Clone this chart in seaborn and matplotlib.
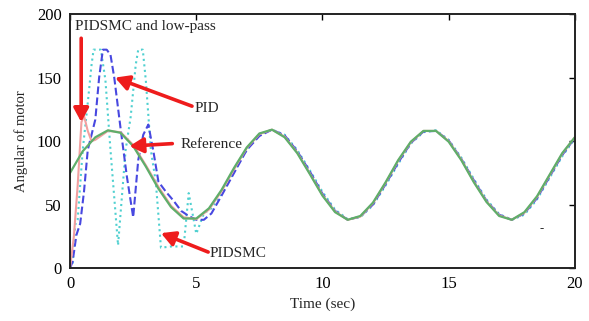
import numpy as np
import pandas as pd
import matplotlib
matplotlib.use("Agg")
import matplotlib.pyplot as plt
import seaborn as sns

# time grid for the steady part and values
t_ref = list(np.arange(0, 20.5, 0.5))
reference = [75, 92, 103, 108.5, 106.5, 96, 80, 62.5, 48, 39,
             39, 47, 61.5, 79, 95, 106, 109, 103, 90.5, 74,
             57, 44, 38, 41, 51.5, 67.5, 85, 99.5, 108, 108,
             99.5, 85, 67.5, 52, 41, 38, 44, 56.5, 73.5, 90.5, 103]

t_smc = [0, 0.1, 0.2, 0.3, 0.5, 0.7, 0.85, 0.93, 1.22, 1.4, 1.6, 1.9, 2.2, 2.4,
         2.6, 2.7, 2.88, 3.0, 3.2, 3.4, 3.6, 4.0, 4.5, 4.7, 5.0, 5.3, 5.6] + list(np.arange(6, 20.5, 0.5))
pidsmc = [0, 2, 34, 38, 93, 130, 160, 172, 172, 148, 93, 18, 93, 119,
          160, 172, 172, 148, 93, 67, 16, 17, 17, 59, 27, 43, 47,
          59, 76, 93, 105, 109, 105, 93, 77, 60, 46, 38.5, 40, 49.5, 65, 82,
          98, 107, 108.5, 101, 87, 70, 54, 42.5, 38, 42, 54, 71, 88, 102]

t_pid = [0, 0.1, 0.25, 0.4, 0.55, 0.7, 0.85, 1.0, 1.15, 1.3, 1.45, 1.6, 1.75, 2.0,
         2.25, 2.5, 2.7, 2.9, 3.1, 3.3, 3.5, 3.8, 4.1, 4.4, 4.7, 5.0, 5.3, 5.6] + list(np.arange(6, 20.5, 0.5))
pid = [0, 5, 26, 35, 60, 93, 105, 117, 150, 172, 172, 168, 150, 110,
       72, 40, 85, 105, 113, 92, 68, 60, 53, 45, 41, 38, 38, 43,
       57, 75, 93, 104, 109, 104.5, 92, 76, 58.5, 45, 38, 40.5, 50, 66, 83,
       98.5, 107.5, 108, 100.5, 86, 69, 53, 42, 38, 43, 55, 72, 89, 102.5]

t_lp = [0, 0.15, 0.3, 0.45, 0.55, 0.7, 0.85] + list(np.arange(1, 20.5, 0.5))
lowpass = [0, 25, 65, 115, 120, 108, 100,
           101, 108, 107, 97, 81, 64, 49, 40, 38.5,
           46, 60.5, 78, 94.5, 105.5, 109, 103.5, 91, 74.5,
           57.5, 44.5, 38, 40.5, 51, 67, 84.5, 99, 108,
           108, 100, 85.5, 68, 52.5, 41.5, 38, 43.5, 56,
           73, 90, 103]

sns.set_theme(style="white")
plt.rcParams['font.family'] = ['Liberation Serif', 'DejaVu Serif']

fig = plt.figure(figsize=(5.89, 3.21), dpi=100)
ax = fig.add_axes([0.119, 0.165, 0.857, 0.791])

sns.lineplot(x=t_smc, y=pidsmc, ax=ax, color='#4fd0d0', linestyle=':', linewidth=1.5)
sns.lineplot(x=t_pid, y=pid, ax=ax, color='#4848e0', linestyle='--', linewidth=1.5)
sns.lineplot(x=t_lp, y=lowpass, ax=ax, color='#f2a0a0', linewidth=1.5)
sns.lineplot(x=t_ref, y=reference, ax=ax, color='#5fae6a', linewidth=1.6)

ax.set_xlim(0, 20)
ax.set_ylim(0, 200)
ax.set_xticks([0, 5, 10, 15, 20])
ax.set_yticks([0, 50, 100, 150, 200])
ax.tick_params(direction='in', length=4, width=1, top=True, right=True,
               labelsize=12, colors='black', pad=6)
for s in ax.spines.values():
    s.set_color('#222222')
    s.set_linewidth(1.4)
ax.set_xlabel('Time (sec)', fontsize=11, labelpad=4)
ax.set_ylabel('Angular of motor', fontsize=10.5, labelpad=6)

# red arrows with labels
arrow = dict(arrowstyle='-|>,head_length=0.55,head_width=0.3', color='#ee1c1c',
             lw=2.6, mutation_scale=15, shrinkA=0, shrinkB=0)
ax.annotate('', xy=(0.44, 115), xytext=(0.44, 181), arrowprops=arrow)
ax.annotate('', xy=(1.78, 150), xytext=(4.83, 127.5), arrowprops=arrow)
ax.annotate('', xy=(2.35, 96), xytext=(4.05, 98), arrowprops=arrow)
ax.annotate('', xy=(3.6, 27.5), xytext=(5.47, 12.6), arrowprops=arrow)

ax.text(0.2, 190, 'PIDSMC and low-pass', fontsize=11, ha='left', va='center')
ax.text(4.95, 126, 'PID', fontsize=11, ha='left', va='center')
ax.text(4.36, 97.6, 'Reference', fontsize=11, ha='left', va='center')
ax.text(5.54, 11.8, 'PIDSMC', fontsize=11, ha='left', va='center')
ax.text(18.7, 31, '-', fontsize=9, ha='center', va='center')

fig.savefig('out.png', dpi=100)
